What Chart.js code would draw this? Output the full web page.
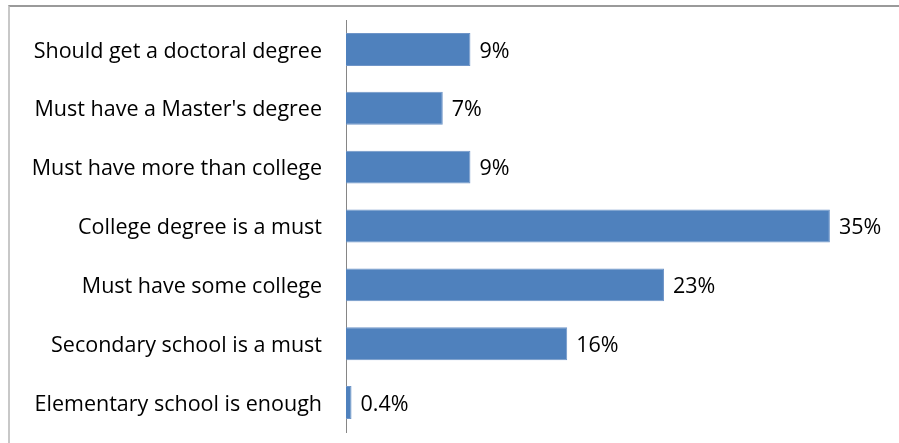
<!DOCTYPE html>
<html>
<head>
<meta charset="utf-8">
<script src="https://cdn.jsdelivr.net/npm/chart.js@4/dist/chart.umd.min.js"></script>
<style>
  html, body { margin: 0; padding: 0; background: #fff; }
  #wrap { position: relative; width: 899px; height: 443px; }
  #frame { position: absolute; left: 8px; top: 5px; right: -10px; bottom: -10px;
           border-top: 2px solid #9a9a9a; border-left: 2px solid #c8c8c8; }
  canvas { position: absolute; left: 0; top: 0; }
</style>
</head>
<body>
<div id="wrap">
  <div id="frame"></div>
  <canvas id="chart" width="899" height="443"></canvas>
</div>
<script>
const categories = [
  'Should get a doctoral degree',
  "Must have a Master's degree",
  'Must have more than college',
  'College degree is a must',
  'Must have some college',
  'Secondary school is a must',
  'Elementary school is enough'
];
const shares = [9, 7, 9, 35, 23, 16, 0.4];
const valueLabels = ['9%', '7%', '9%', '35%', '23%', '16%', '0.4%'];

// ----- value labels at bar ends -----
const barLabels = {
  id: 'barLabels',
  afterDatasetsDraw(chart) {
    const c = chart.ctx;
    const meta = chart.getDatasetMeta(0);
    c.save();
    c.font = '21.5px "Open Sans", sans-serif';
    c.fillStyle = '#000';
    c.textBaseline = 'middle';
    c.textAlign = 'left';
    meta.data.forEach((bar, i) => {
      c.fillText(valueLabels[i], bar.x + 9, bar.y + 2);
    });
    c.restore();
  }
};

const ctx = document.getElementById('chart').getContext('2d');
new Chart(ctx, {
  type: 'bar',
  data: {
    labels: categories,
    datasets: [{
      data: shares,
      backgroundColor: '#4f81bd',
      borderColor: '#6f95c8',
      borderWidth: 1,
      barPercentage: 0.56,
      categoryPercentage: 1
    }]
  },
  options: {
    indexAxis: 'y',
    responsive: false,
    animation: false,
    layout: { padding: { top: 20, bottom: 11, left: 0, right: 0 } },
    plugins: { legend: { display: false }, tooltip: { enabled: false } },
    scales: {
      x: { display: false, min: 0, max: 40 },
      y: {
        grid: { display: false, drawTicks: false },
        border: { display: true, color: '#868686', width: 1 },
        afterFit(scale) {
          scale.width = 346;
          scale.paddingTop = 0;
          scale.paddingBottom = 0;
        },
        ticks: {
          color: '#000',
          padding: 24,
          labelOffset: 2,
          font: { family: '"Open Sans", sans-serif', size: 21.5 }
        }
      }
    }
  },
  plugins: [barLabels]
});
</script>
</body>
</html>
